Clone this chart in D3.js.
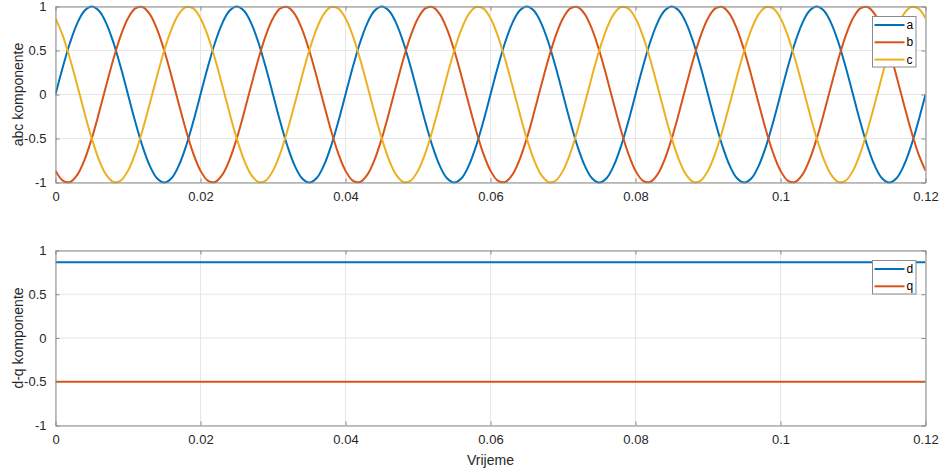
<!DOCTYPE html>
<html><head><meta charset="utf-8">
<script src="https://cdn.jsdelivr.net/npm/d3@7"></script>
<style>
html,body{margin:0;padding:0;background:#fff;}
text{font-family:"Liberation Sans",Arial,Helvetica,sans-serif;}
</style></head>
<body><svg id="chart" width="943" height="473"></svg>
<script>
// sample times (s), step 0.001
const time = [0,0.001,0.002,0.003,0.004,0.005,0.006,0.007,0.008,0.009,0.01,0.011,0.012,0.013,0.014,0.015,0.016,0.017,0.018,0.019,
0.02,0.021,0.022,0.023,0.024,0.025,0.026,0.027,0.028,0.029,0.03,0.031,0.032,0.033,0.034,0.035,0.036,0.037,0.038,0.039,
0.04,0.041,0.042,0.043,0.044,0.045,0.046,0.047,0.048,0.049,0.05,0.051,0.052,0.053,0.054,0.055,0.056,0.057,0.058,0.059,
0.06,0.061,0.062,0.063,0.064,0.065,0.066,0.067,0.068,0.069,0.07,0.071,0.072,0.073,0.074,0.075,0.076,0.077,0.078,0.079,
0.08,0.081,0.082,0.083,0.084,0.085,0.086,0.087,0.088,0.089,0.09,0.091,0.092,0.093,0.094,0.095,0.096,0.097,0.098,0.099,
0.1,0.101,0.102,0.103,0.104,0.105,0.106,0.107,0.108,0.109,0.11,0.111,0.112,0.113,0.114,0.115,0.116,0.117,0.118,0.119,0.12];
const seriesA = [0,0.309,0.588,0.809,0.951,1,0.951,0.809,0.588,0.309,0,-0.309,-0.588,-0.809,-0.951,-1,-0.951,-0.809,-0.588,-0.309,
0,0.309,0.588,0.809,0.951,1,0.951,0.809,0.588,0.309,0,-0.309,-0.588,-0.809,-0.951,-1,-0.951,-0.809,-0.588,-0.309,
0,0.309,0.588,0.809,0.951,1,0.951,0.809,0.588,0.309,0,-0.309,-0.588,-0.809,-0.951,-1,-0.951,-0.809,-0.588,-0.309,
0,0.309,0.588,0.809,0.951,1,0.951,0.809,0.588,0.309,0,-0.309,-0.588,-0.809,-0.951,-1,-0.951,-0.809,-0.588,-0.309,
0,0.309,0.588,0.809,0.951,1,0.951,0.809,0.588,0.309,0,-0.309,-0.588,-0.809,-0.951,-1,-0.951,-0.809,-0.588,-0.309,
0,0.309,0.588,0.809,0.951,1,0.951,0.809,0.588,0.309,0,-0.309,-0.588,-0.809,-0.951,-1,-0.951,-0.809,-0.588,-0.309,0];
const seriesB = [-0.866,-0.978,-0.995,-0.914,-0.743,-0.5,-0.208,0.105,0.407,0.669,0.866,0.978,0.995,0.914,0.743,0.5,0.208,-0.105,-0.407,-0.669,
-0.866,-0.978,-0.995,-0.914,-0.743,-0.5,-0.208,0.105,0.407,0.669,0.866,0.978,0.995,0.914,0.743,0.5,0.208,-0.105,-0.407,-0.669,
-0.866,-0.978,-0.995,-0.914,-0.743,-0.5,-0.208,0.105,0.407,0.669,0.866,0.978,0.995,0.914,0.743,0.5,0.208,-0.105,-0.407,-0.669,
-0.866,-0.978,-0.995,-0.914,-0.743,-0.5,-0.208,0.105,0.407,0.669,0.866,0.978,0.995,0.914,0.743,0.5,0.208,-0.105,-0.407,-0.669,
-0.866,-0.978,-0.995,-0.914,-0.743,-0.5,-0.208,0.105,0.407,0.669,0.866,0.978,0.995,0.914,0.743,0.5,0.208,-0.105,-0.407,-0.669,
-0.866,-0.978,-0.995,-0.914,-0.743,-0.5,-0.208,0.105,0.407,0.669,0.866,0.978,0.995,0.914,0.743,0.5,0.208,-0.105,-0.407,-0.669,-0.866];
const seriesC = [0.866,0.669,0.407,0.105,-0.208,-0.5,-0.743,-0.914,-0.995,-0.978,-0.866,-0.669,-0.407,-0.105,0.208,0.5,0.743,0.914,0.995,0.978,
0.866,0.669,0.407,0.105,-0.208,-0.5,-0.743,-0.914,-0.995,-0.978,-0.866,-0.669,-0.407,-0.105,0.208,0.5,0.743,0.914,0.995,0.978,
0.866,0.669,0.407,0.105,-0.208,-0.5,-0.743,-0.914,-0.995,-0.978,-0.866,-0.669,-0.407,-0.105,0.208,0.5,0.743,0.914,0.995,0.978,
0.866,0.669,0.407,0.105,-0.208,-0.5,-0.743,-0.914,-0.995,-0.978,-0.866,-0.669,-0.407,-0.105,0.208,0.5,0.743,0.914,0.995,0.978,
0.866,0.669,0.407,0.105,-0.208,-0.5,-0.743,-0.914,-0.995,-0.978,-0.866,-0.669,-0.407,-0.105,0.208,0.5,0.743,0.914,0.995,0.978,
0.866,0.669,0.407,0.105,-0.208,-0.5,-0.743,-0.914,-0.995,-0.978,-0.866,-0.669,-0.407,-0.105,0.208,0.5,0.743,0.914,0.995,0.978,0.866];
const dqTime = [0, 0.12];
const seriesD = [0.866, 0.866];
const seriesQ = [-0.5, -0.5];
const xTicks = [0, 0.02, 0.04, 0.06, 0.08, 0.1, 0.12];
const yTicks = [-1, -0.5, 0, 0.5, 1];
const abcNames = ["a", "b", "c"];
const dqNames = ["d", "q"];
const colors = ["#0072BD", "#D95319", "#EDB120"];

const svg = d3.select("#chart");
const L = 55.5, R = 925.5;
const x = d3.scaleLinear().domain([0, 0.12]).range([L, R]);
const fmt = d => String(d);

function panel(top, bottom, ylabel, xs, seriesList, names, legendBox, showXLabel) {
  const y = d3.scaleLinear().domain([-1, 1]).range([bottom, top]);
  const g = svg.append("g");
  // grid
  g.selectAll(".gx").data(xTicks).enter().append("line")
    .attr("x1", d => x(d)).attr("x2", d => x(d)).attr("y1", top).attr("y2", bottom)
    .attr("stroke", "#e6e6e6").attr("stroke-width", 1);
  g.selectAll(".gy").data(yTicks).enter().append("line")
    .attr("x1", L).attr("x2", R).attr("y1", d => y(d)).attr("y2", d => y(d))
    .attr("stroke", "#e6e6e6").attr("stroke-width", 1);
  // lines
  const line = d3.line().x(d => x(d[0])).y(d => y(d[1])).curve(d3.curveCatmullRom.alpha(0.5));
  const clipId = "clip" + Math.round(top);
  svg.append("clipPath").attr("id", clipId).append("rect")
    .attr("x", L).attr("y", top - 2).attr("width", R - L).attr("height", bottom - top + 4);
  seriesList.forEach((s, i) => {
    g.append("path").datum(xs.map((t, k) => [t, s[k]]))
      .attr("clip-path", `url(#${clipId})`)
      .attr("d", line).attr("fill", "none").attr("stroke", colors[i]).attr("stroke-width", 2);
  });
  // axes with inward ticks
  const axB = d3.axisBottom(x).tickValues(xTicks).tickFormat(fmt).tickSizeInner(-4).tickSizeOuter(0).tickPadding(9);
  const axT = d3.axisTop(x).tickValues(xTicks).tickFormat("").tickSizeInner(-4).tickSizeOuter(0);
  const axL = d3.axisLeft(y).tickValues(yTicks).tickFormat(fmt).tickSizeInner(-4).tickSizeOuter(0).tickPadding(9);
  const axR = d3.axisRight(y).tickValues(yTicks).tickFormat("").tickSizeInner(-4).tickSizeOuter(0);
  const style = sel => {
    sel.select(".domain").attr("stroke", "#8a8a8a").attr("stroke-width", 1);
    sel.selectAll(".tick line").attr("stroke", "#8a8a8a");
    sel.selectAll(".tick text").attr("fill", "#262626").style("font-size", "13px")
      .style("font-family", '"Liberation Sans",Arial,sans-serif');
  };
  g.append("g").attr("transform", `translate(0,${bottom})`).call(axB).call(style);
  g.append("g").attr("transform", `translate(0,${top})`).call(axT).call(style);
  g.append("g").attr("transform", `translate(${L},0)`).call(axL).call(style);
  g.append("g").attr("transform", `translate(${R},0)`).call(axR).call(style);
  // y label
  g.append("text").attr("transform", `translate(18,${(top + bottom) / 2}) rotate(-90)`)
    .attr("text-anchor", "middle").attr("dy", "0.35em").attr("fill", "#262626").style("font-size", "14px").text(ylabel);
  if (showXLabel) {
    g.append("text").attr("x", (L + R) / 2).attr("y", 465).attr("text-anchor", "middle")
      .attr("fill", "#262626").style("font-size", "14px").text("Vrijeme");
  }
  // legend
  const lg = g.append("g");
  lg.append("rect").attr("x", legendBox[0]).attr("y", legendBox[1]).attr("width", legendBox[2]).attr("height", legendBox[3])
    .attr("fill", "#fff").attr("stroke", "#8a8a8a").attr("stroke-width", 1);
  names.forEach((n, i) => {
    const yy = legendBox[1] + 8.5 + i * 17.3;
    lg.append("line").attr("x1", legendBox[0] + 2).attr("x2", legendBox[0] + 32).attr("y1", yy).attr("y2", yy)
      .attr("stroke", colors[i]).attr("stroke-width", 2);
    lg.append("text").attr("x", legendBox[0] + 34).attr("y", yy + 4).attr("fill", "#000").style("font-size", "12px").text(n);
  });
}

panel(6.5, 182.5, "abc komponente", time, [seriesA, seriesB, seriesC], abcNames, [872.5, 16.5, 43.5, 50.5], false);
panel(250.5, 425.5, "d-q komponente", dqTime, [seriesD, seriesQ], dqNames, [872.5, 260.5, 43.5, 33.5], true);
</script></body></html>
